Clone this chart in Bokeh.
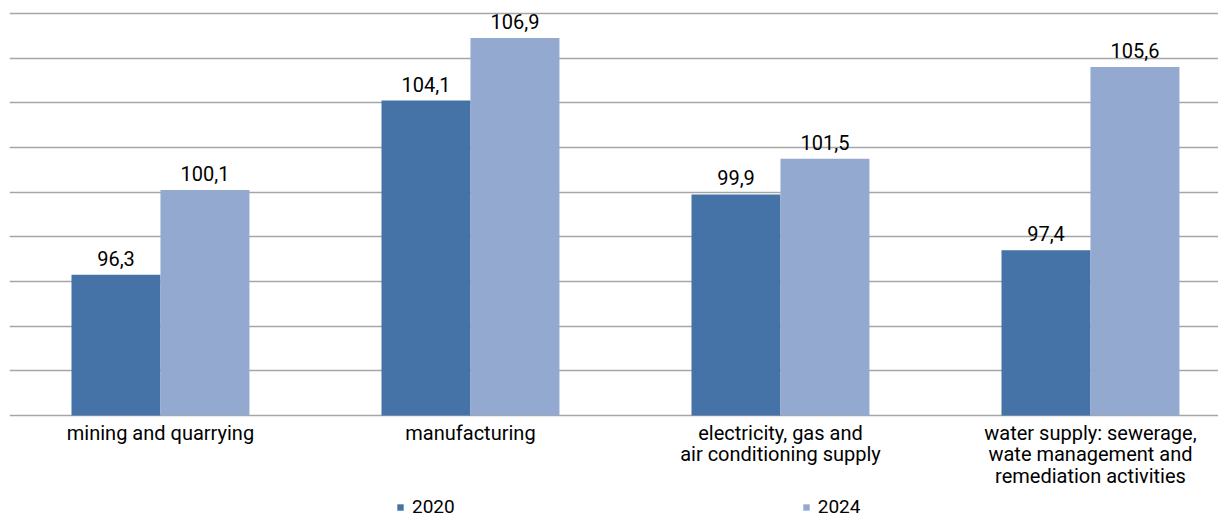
from bokeh.plotting import figure
from bokeh.models import (ColumnDataSource, Range1d, FixedTicker, LabelSet,
                          Legend, LegendItem)
from bokeh.core.properties import value
from bokeh.embed import file_html
from bokeh.resources import INLINE

categories = ["mining and quarrying", "manufacturing",
              "electricity, gas and\nair conditioning supply",
              "water supply: sewerage,\nwate management and\nremediation activities"]
series_names = ["2020", "2024"]
values_2020 = [96.3, 104.1, 99.9, 97.4]
values_2024 = [100.1, 106.9, 101.5, 105.6]
grid_ticks = list(range(90, 110, 2))
colors = ["#4572a7", "#94a9d0"]

FONT = "Roboto"
bar_w = 0.287
base = 90
idx = list(range(len(categories)))

# frame runs past the window bottom so labels and legend sit inside it
p = figure(frame_width=1209, frame_height=530, output_backend="svg",
           toolbar_location=None, min_border_left=9, min_border_right=0,
           min_border_top=0, min_border_bottom=0,
           x_range=Range1d(-0.487, 3.413), y_range=Range1d(84.851, 108.582))
p.outline_line_color = None
p.background_fill_color = "white"
p.xaxis.visible = False
p.yaxis.visible = False

p.xgrid.grid_line_color = None
p.ygrid.ticker = FixedTicker(ticks=grid_ticks)
p.ygrid.grid_line_color = "#a6a6a6"
p.ygrid.grid_line_width = 1.5

renderers = []
for k, (vals, col) in enumerate(zip([values_2020, values_2024], colors)):
    off = (-0.5 + k) * bar_w
    src = ColumnDataSource(dict(
        x=[i + off for i in idx], top=vals,
        lab=[f"{v:.1f}".replace(".", ",") for v in vals]))
    r = p.vbar(x="x", top="top", bottom=base, width=bar_w, source=src,
               fill_color=col, line_color=None)
    renderers.append(r)
    p.add_layout(LabelSet(x="x", y="top", text="lab", source=src,
                          text_align="center", text_baseline="alphabetic",
                          y_offset=9, text_font=value(FONT),
                          text_font_size="20px", text_color="#000000"))

# category labels under the baseline, one text row per line
lines = [c.split("\n") for c in categories]
for j in range(max(len(l) for l in lines)):
    xs = [i for i, l in enumerate(lines) if j < len(l)]
    ts = [lines[i][j] for i in xs]
    src = ColumnDataSource(dict(x=xs, y=[base] * len(xs), t=ts))
    p.text(x="x", y="y", text="t", source=src, text_align="center",
           text_baseline="top", y_offset=5 + j * 21.5, text_font=value(FONT),
           text_font_size="20px", text_color="#000000")

legend = Legend(items=[LegendItem(label=n, renderers=[r])
                       for n, r in zip(series_names, renderers)],
                orientation="horizontal", location=(387, 12),
                glyph_width=8, glyph_height=8, label_standoff=8,
                spacing=347, padding=0, margin=0,
                label_text_font=FONT, label_text_font_size="19px",
                label_text_color="#000000", border_line_color=None,
                background_fill_alpha=0)
p.add_layout(legend, "center")

open("out.html", "w").write(file_html(p, INLINE))
